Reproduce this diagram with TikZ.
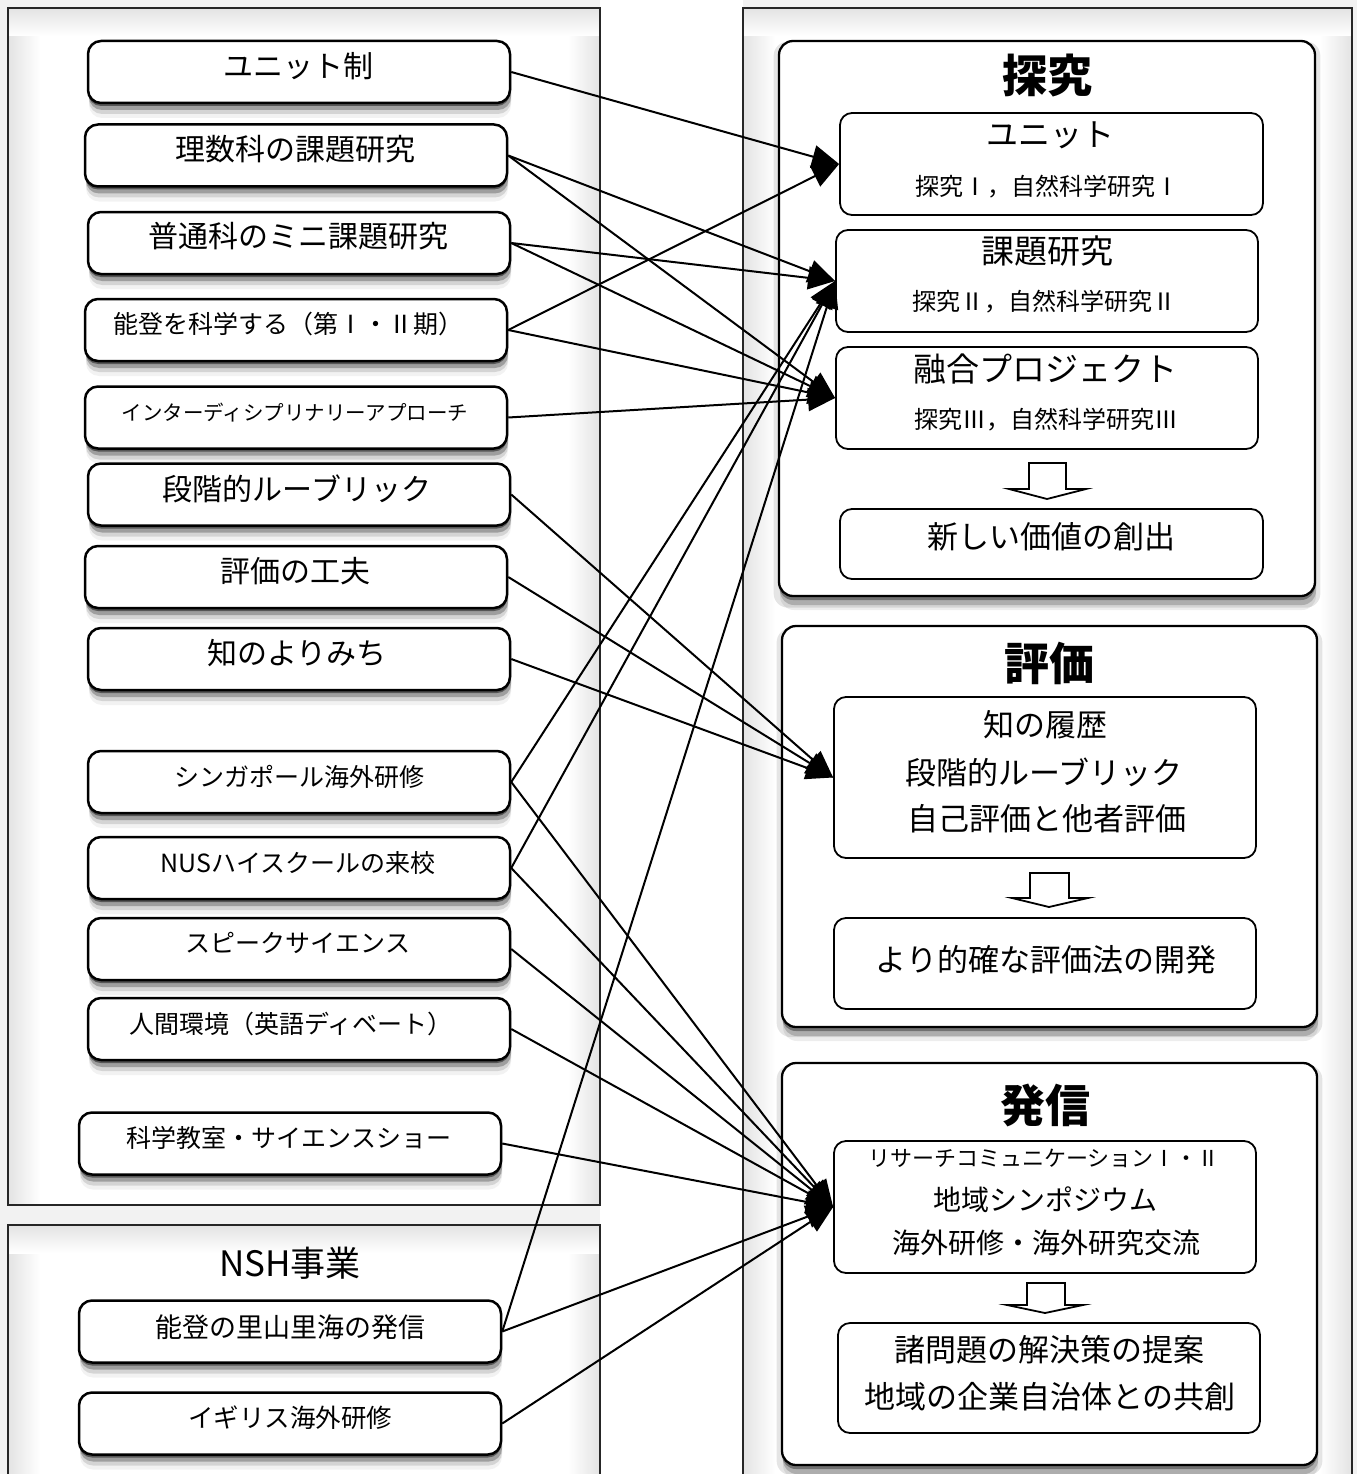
\documentclass[tikz,border=0pt]{standalone}
\usepackage{fontspec}
\setmainfont{Noto Sans CJK JP}
\usetikzlibrary{arrows.meta,shadows}
\tikzset{
  softshadow/.style={
    drop shadow={shadow xshift=0pt,shadow yshift=-3pt,opacity=.45,fill=black},
    drop shadow={shadow xshift=1pt,shadow yshift=-7pt,opacity=.25,fill=black},
    drop shadow={shadow xshift=1pt,shadow yshift=-11pt,opacity=.12,fill=black},
    drop shadow={shadow xshift=1pt,shadow yshift=-15pt,opacity=.05,fill=black}},
  bigshadow/.style={
    drop shadow={shadow scale=1.02,shadow xshift=0pt,shadow yshift=-6pt,opacity=.10,fill=black},
    drop shadow={shadow xshift=0pt,shadow yshift=-4pt,opacity=.35,fill=black},
    drop shadow={shadow xshift=1pt,shadow yshift=-9pt,opacity=.18,fill=black},
    drop shadow={shadow xshift=1pt,shadow yshift=-14pt,opacity=.07,fill=black}},
  lbox/.style={draw=black, line width=2.5pt, fill=white, rounded corners=13pt,
    minimum width=422pt, minimum height=62pt, inner sep=0pt, softshadow},
  bigbox/.style={draw=black, line width=2.3pt, fill=white, rounded corners=14pt,
    inner sep=0pt, bigshadow},
  ibox/.style={draw=black, line width=1.8pt, fill=white, rounded corners=12pt, inner sep=0pt},
  conn/.style={line width=2pt, -{Triangle[length=27pt,width=23pt]}},
  panel/.style={draw=black!85, line width=1.8pt},
  hollow/.style={draw=black, line width=1.8pt, fill=white, line join=miter},
}
\newcommand\tx[5]{\node[anchor=base,inner sep=0pt,font=\fontsize{#4}{#4}\selectfont] (#1) at ({#2},{#3+0.38*#4}) {#5};}
\newcommand\ttl[5]{\node[anchor=base,inner sep=0pt,font=\fontsize{#4}{#4}\selectfont\bfseries] (#1) at ({#2},{#3+0.38*#4}) {#5};}
\begin{document}
\begin{tikzpicture}[x=1pt,y=-1pt]
\useasboundingbox (0,0) rectangle (1357,1474);
\clip (0,0) rectangle (1357,1474);
% background
\fill[gray!10] (0,0) rectangle (1357,1474);
\fill[white] (600,0) rectangle (743,1474);
% panels
\fill[white] (8,8) rectangle (600,1205);
\fill[white] (8,1225) rectangle (600,1490);
\fill[white] (743,8) rectangle (1352,1490);
\shade[left color=gray!22, right color=white] (8,8) rectangle (40,1205);
\shade[left color=white, right color=gray!22] (568,8) rectangle (600,1205);
\shade[top color=gray!22, bottom color=white] (8,8) rectangle (600,36);
\shade[left color=gray!22, right color=white] (8,1225) rectangle (40,1490);
\shade[left color=white, right color=gray!22] (568,1225) rectangle (600,1490);
\shade[top color=gray!22, bottom color=white] (8,1225) rectangle (600,1253);
\shade[left color=gray!22, right color=white] (743,8) rectangle (775,1490);
\shade[left color=white, right color=gray!22] (1320,8) rectangle (1352,1490);
\shade[top color=gray!22, bottom color=white] (743,8) rectangle (1352,36);
\draw[panel] (8,8) rectangle (600,1205);
\draw[panel] (8,1225) rectangle (600,1500);
\draw[panel] (743,8) rectangle (1352,1500);

% left boxes
\node[lbox] (L1) at (299,72) {};
\node[lbox] (L2) at (296,155.5) {};
\node[lbox] (L3) at (299,243) {};
\node[lbox] (L4) at (296,330) {};
\node[lbox] (L5) at (296,417.5) {};
\node[lbox] (L6) at (299,494.5) {};
\node[lbox] (L7) at (296,577) {};
\node[lbox] (L8) at (299,659) {};
\node[lbox] (L9) at (299,782) {};
\node[lbox] (L10) at (299,868) {};
\node[lbox] (L11) at (299,949) {};
\node[lbox] (L12) at (299,1029) {};
\node[lbox] (L13) at (290,1143.5) {};
\node[lbox] (L14) at (290,1331.5) {};
\node[lbox] (L15) at (290,1423.5) {};

\tx{t1}{298}{66}{30}{ユニット制}
\tx{t2}{295}{149}{30}{理数科の課題研究}
\tx{t3}{298}{236}{30}{普通科のミニ課題研究}
\tx{t4}{288}{324}{25}{能登を科学する（第Ⅰ・Ⅱ期）}
\tx{t5}{295}{413}{20.5}{インターディシプリナリーアプローチ}
\tx{t6}{297}{489}{30}{段階的ルーブリック}
\tx{t7}{295}{571}{30}{評価の工夫}
\tx{t8}{297}{653}{30}{知のよりみち}
\tx{t9}{299}{777}{25}{シンガポール海外研修}
\tx{t10}{298}{863}{25}{NUSハイスクールの来校}
\tx{t11}{298}{943}{25}{スピークサイエンス}
\tx{t12}{291}{1024}{25}{人間環境（英語ディベート）}
\tx{t13}{289}{1138}{25}{科学教室・サイエンスショー}
\tx{tnsh}{290}{1263}{35}{NSH事業}
\tx{t14}{290}{1327}{27}{能登の里山里海の発信}
\tx{t15}{290}{1418}{25.5}{イギリス海外研修}

% right big boxes
\node[bigbox, minimum width=536pt, minimum height=555pt] (B1) at (1047,318.5) {};
\node[bigbox, minimum width=535pt, minimum height=401pt] (B2) at (1049.5,826.5) {};
\node[bigbox, minimum width=535pt, minimum height=402pt] (B3) at (1049.5,1264) {};

\ttl{h1}{1047}{75}{45}{探究}
\ttl{h2}{1049}{663}{45}{評価}
\ttl{h3}{1045}{1105}{45}{発信}

% inner boxes
\node[ibox, minimum width=423pt, minimum height=102pt] (RU) at (1051.5,164) {};
\node[ibox, minimum width=422pt, minimum height=102pt] (RK) at (1047,281) {};
\node[ibox, minimum width=422pt, minimum height=102pt] (RY) at (1047,398) {};
\node[ibox, minimum width=423pt, minimum height=70pt] (RN) at (1051.5,544) {};
\node[ibox, minimum width=422pt, minimum height=161pt] (RE) at (1045,777.5) {};
\node[ibox, minimum width=422pt, minimum height=91pt] (RD) at (1045,963.5) {};
\node[ibox, minimum width=422pt, minimum height=132pt] (RH) at (1045,1207) {};
\node[ibox, minimum width=422pt, minimum height=110pt] (RS) at (1049,1378) {};

\tx{r1}{1050}{134}{32}{ユニット}
\tx{r2}{1047}{186}{24}{探究Ⅰ，自然科学研究Ⅰ}
\tx{r3}{1047}{251}{33}{課題研究}
\tx{r4}{1044}{301}{24}{探究Ⅱ，自然科学研究Ⅱ}
\tx{r5}{1045}{369}{33}{融合プロジェクト}
\tx{r6}{1046}{419}{24}{探究Ⅲ，自然科学研究Ⅲ}
\tx{r7}{1051}{537}{31}{新しい価値の創出}
\tx{r8}{1045}{725}{31}{知の履歴}
\tx{r9}{1044}{773}{31}{段階的ルーブリック}
\tx{r10}{1047}{819}{31}{自己評価と他者評価}
\tx{r11}{1046}{960}{31}{より的確な評価法の開発}
\tx{r12}{1044}{1158}{22}{リサーチコミュニケーションⅠ・Ⅱ}
\tx{r13}{1045}{1200}{28}{地域シンポジウム}
\tx{r14}{1046}{1243}{28}{海外研修・海外研究交流}
\tx{r15}{1049}{1350}{31}{諸問題の解決策の提案}
\tx{r16}{1050}{1397}{31}{地域の企業自治体との共創}

% hollow arrows
\draw[hollow] (1029,463) -- (1066,463) -- (1066,489) -- (1086,489) -- (1047,499) -- (1009,489) -- (1029,489) -- cycle;
\draw[hollow] (1030,873) -- (1069,873) -- (1069,898) -- (1088,898) -- (1049,907) -- (1012,898) -- (1030,898) -- cycle;
\draw[hollow] (1027,1283) -- (1065,1283) -- (1065,1305) -- (1083,1305) -- (1045,1313) -- (1007,1305) -- (1027,1305) -- cycle;

% connectors
\draw[conn] (L1.east) -- (RU.west);
\draw[conn] (L4.east) -- (RU.west);
\draw[conn] (L2.east) -- (RK.west);
\draw[conn] (L2.east) -- (RY.west);
\draw[conn] (L3.east) -- (RK.west);
\draw[conn] (L3.east) -- (RY.west);
\draw[conn] (L4.east) -- (RY.west);
\draw[conn] (L5.east) -- (RY.west);
\draw[conn] (L9.east) -- (RK.west);
\draw[conn] (L10.east) -- (RK.west);
\draw[conn] (L14.east) -- (RK.west);
\draw[conn] (L6.east) -- (RE.west);
\draw[conn] (L7.east) -- (RE.west);
\draw[conn] (L8.east) -- (RE.west);
\draw[conn] (L9.east) -- (RH.west);
\draw[conn] (L10.east) -- (RH.west);
\draw[conn] (L11.east) -- (RH.west);
\draw[conn] (L12.east) -- (RH.west);
\draw[conn] (L13.east) -- (RH.west);
\draw[conn] (L14.east) -- (RH.west);
\draw[conn] (L15.east) -- (RH.west);
\end{tikzpicture}
\end{document}
